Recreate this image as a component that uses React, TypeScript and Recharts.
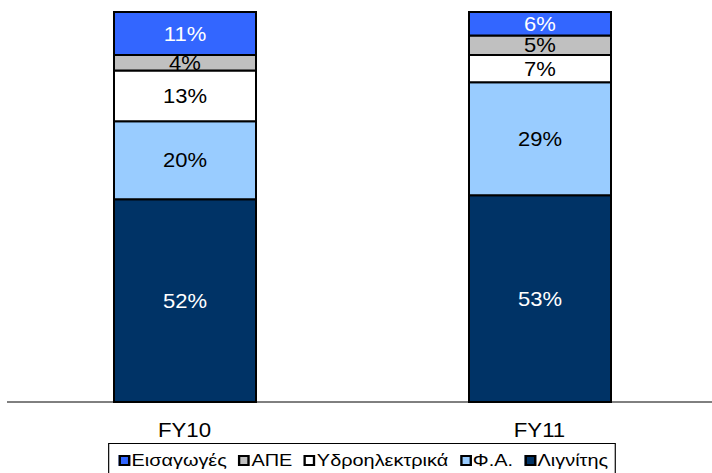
import React from 'react';
import { BarChart, Bar, XAxis, YAxis, Legend, LabelList } from 'recharts';

const categories = ['FY10', 'FY11'];
const lignite = [52, 53];
const naturalGas = [20, 29];
const hydro = [13, 7];
const renewables = [4, 5];
const imports = [11, 6];

const seriesInfo = [
  { key: 'lignite', name: 'Λιγνίτης', color: '#003366', text: '#ffffff' },
  { key: 'gas', name: 'Φ.Α.', color: '#99CCFF', text: '#000000' },
  { key: 'hydro', name: 'Υδροηλεκτρικά', color: '#ffffff', text: '#000000' },
  { key: 'res', name: 'ΑΠΕ', color: '#C0C0C0', text: '#000000' },
  { key: 'imports', name: 'Εισαγωγές', color: '#3366FF', text: '#ffffff' },
];

const data = categories.map((c, i) => ({
  name: c,
  lignite: lignite[i],
  gas: naturalGas[i],
  hydro: hydro[i],
  res: renewables[i],
  imports: imports[i],
}));

const font = '"Liberation Sans", Arial, sans-serif';

const makeLabel = (fill: string) => (props: any) => {
  const { x, y, width, height, value } = props;
  return (
    <text
      transform={`translate(${x + width / 2},${y + height / 2}) scale(1.1,1)`}
      x={0}
      y={0}
      textAnchor="middle"
      dominantBaseline="central"
      fill={fill}
      fontSize={20}
      fontFamily={font}
    >
      {value}%
    </text>
  );
};

const CategoryTick = (props: any) => {
  const { x, y, payload } = props;
  return (
    <text
      transform={`translate(${x},${y + 27}) scale(1.14,1)`}
      x={0}
      y={0}
      textAnchor="middle"
      fill="#000"
      fontSize={19.5}
      fontFamily={font}
    >
      {payload.value}
    </text>
  );
};

const LegendBox = () => (
  <div style={{ textAlign: 'center', fontFamily: font, fontSize: 17, lineHeight: '20px' }}>
    <div
      style={{
        display: 'inline-block',
        border: '1px solid #000',
        padding: '7px 6px 6px 8px',
        whiteSpace: 'nowrap',
        transform: 'scaleX(1.17)',
        transformOrigin: 'center',
        background: '#fff',
      }}
    >
      {[...seriesInfo].reverse().map((s, i, arr) => (
        <span key={s.key} style={{ marginRight: i < arr.length - 1 ? 10 : 0 }}>
          <span
            style={{
              display: 'inline-block',
              width: 6,
              height: 7,
              border: '2px solid #000',
              background: s.color,
              marginRight: 1,
              verticalAlign: 'middle',
              position: 'relative',
              top: -1,
            }}
          />
          {s.name}
        </span>
      ))}
    </div>
  </div>
);

export default function App() {
  return (
    <div style={{ position: 'absolute', left: 0, top: 0, width: 712, height: 473, overflow: 'hidden', background: '#fff' }}>
      <BarChart
        width={712}
        height={473}
        data={data}
        margin={{ top: 12, right: -5, left: 7, bottom: 0 }}
        barCategoryGap={0}
      >
        <XAxis
          dataKey="name"
          axisLine={{ stroke: '#000', strokeWidth: 1 }}
          tickLine={false}
          height={41}
          tick={<CategoryTick />}
        />
        <YAxis hide domain={[0, 100]} />
        <Legend verticalAlign="bottom" height={30} content={() => <LegendBox />} />
        {seriesInfo.map((s) => (
          <Bar
            key={s.key}
            dataKey={s.key}
            name={s.name}
            stackId="a"
            fill={s.color}
            stroke="#000"
            strokeWidth={2}
            barSize={142}
            isAnimationActive={false}
          >
            <LabelList dataKey={s.key} content={makeLabel(s.text)} />
          </Bar>
        ))}
      </BarChart>
    </div>
  );
}
